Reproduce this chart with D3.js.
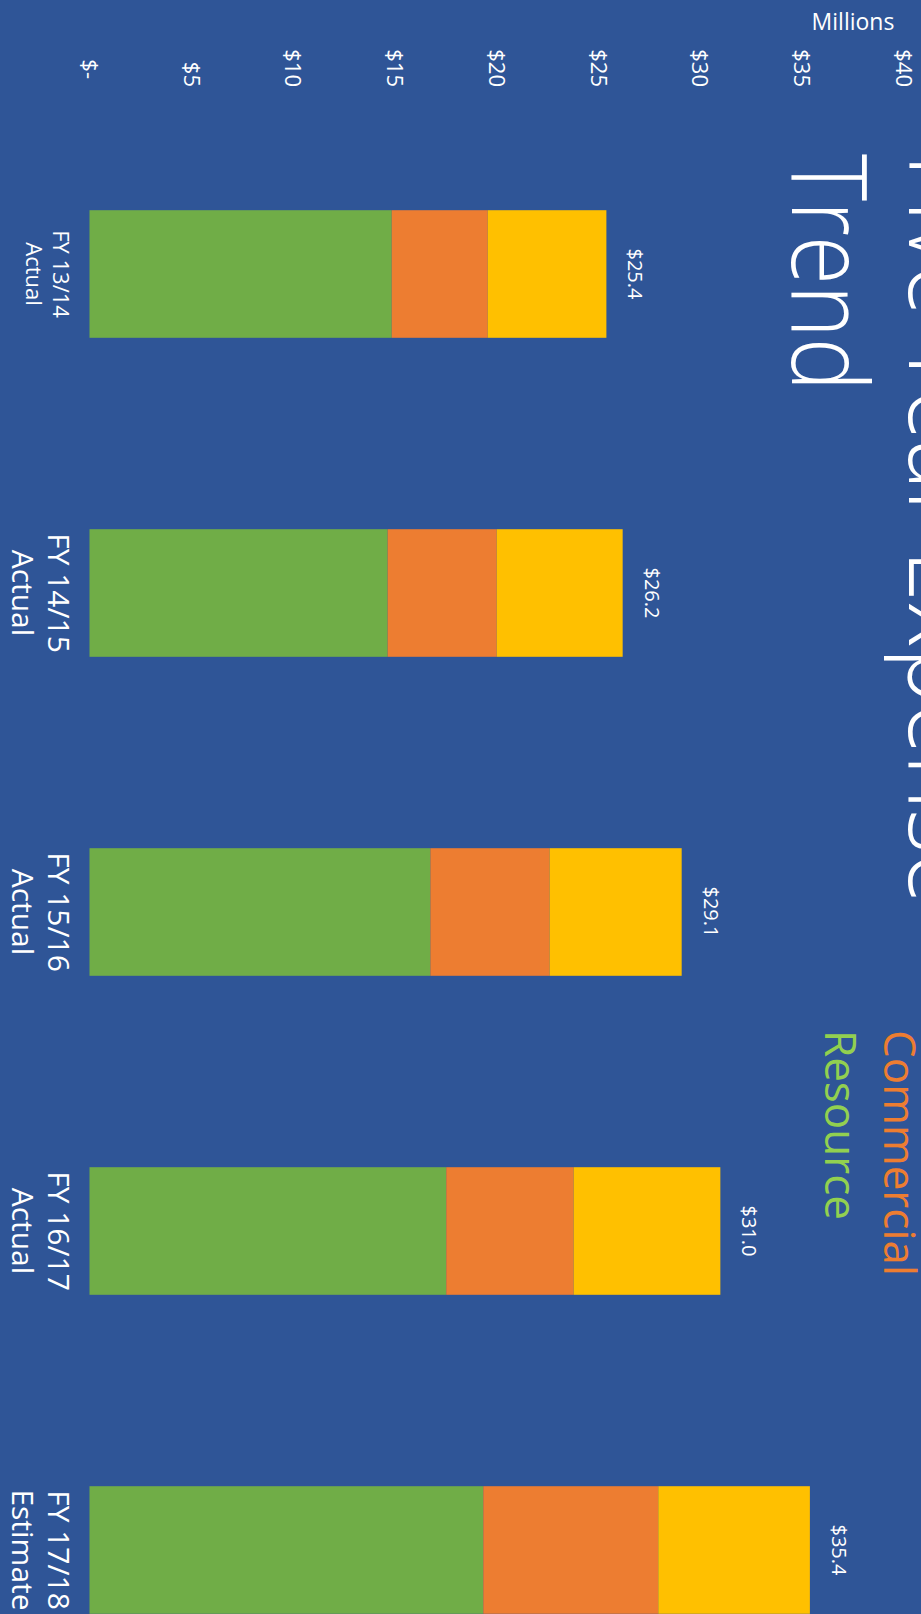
<!DOCTYPE html>
<html>
<head>
<meta charset="utf-8">
<script src="https://cdn.jsdelivr.net/npm/d3@7"></script>
<style>
  html, body { margin: 0; padding: 0; background: #2F5597; }
  svg { display: block; }
  text { font-family: "Open Sans", "Noto Sans", sans-serif; fill: #fff; }
</style>
</head>
<body>
<script>
// Expense by fiscal year, in millions of dollars
const categories = ["FY 13/14|Actual", "FY 14/15|Actual", "FY 15/16|Actual", "FY 16/17|Actual", "FY 17/18|Estimate"];
const seriesNames = ["Resource", "Commercial", "Residential"];
const resource    = [14.85, 14.65, 16.75, 17.53, 19.35];
const commercial  = [4.72, 5.36, 5.86, 6.26, 8.60];
const residential = [5.83, 6.19, 6.49, 7.21, 7.45];
const totals      = [25.4, 26.2, 29.1, 31.0, 35.4];
const tickValues  = [0, 5, 10, 15, 20, 25, 30, 35, 40];
const titleLines  = ["Five Year Expense", "Trend"];
const legendNames = ["Commercial", "Resource"];

const W = 921, H = 1614;
const colors = { Resource: "#70AD47", Commercial: "#ED7D31", Residential: "#FFC000" };
const legendColors = { Commercial: "#ED7D31", Resource: "#92D050" };

const svg = d3.select("body").append("svg").attr("width", W).attr("height", H);
svg.append("rect").attr("width", W).attr("height", H).attr("fill", "#2F5597");

// The slide is laid out turned a quarter turn clockwise:
// local u runs down the page, local v runs right-to-left.
const g = svg.append("g").attr("transform", `translate(${W},0) rotate(90)`);

const rows = categories.map((c, i) => ({
  cat: c, Resource: resource[i], Commercial: commercial[i], Residential: residential[i], total: totals[i]
}));

const x = d3.scaleBand().domain(categories).range([114.5, 1709.5]).paddingInner(0.6).paddingOuter(0.3);
const y = d3.scaleLinear().domain([0, 40]).range([831.5, 17.5]);

const stack = d3.stack().keys(seriesNames)(rows);

g.selectAll("g.series").data(stack).join("g")
  .attr("class", "series")
  .attr("fill", d => colors[d.key])
  .selectAll("rect").data(d => d).join("rect")
  .attr("x", d => x(d.data.cat))
  .attr("width", x.bandwidth())
  .attr("y", d => y(d[1]))
  .attr("height", d => y(d[0]) - y(d[1]));

// value axis labels
const fmt = v => v === 0 ? "$-" : "$" + v;
const yAxis = d3.axisLeft(y).tickValues(tickValues).tickFormat(fmt).tickSize(0).tickPadding(0);
const ya = g.append("g").attr("transform", "translate(87,0)").call(yAxis);
ya.select(".domain").remove();
ya.selectAll("text")
  .attr("font-size", 22)
  .attr("font-family", "\"Open Sans\", sans-serif")
  .attr("fill", "#fff")
  .attr("dx", d => d === 0 ? -8 : 0);

// category labels, two lines each
const catG = g.selectAll("g.cat").data(categories).join("g")
  .attr("class", "cat")
  .attr("transform", d => `translate(${x(d) + x.bandwidth() / 2},0)`);
catG.each(function(d, i) {
  const parts = d.split("|");
  const small = i === 0;
  const t = d3.select(this).append("text")
    .attr("text-anchor", "middle")
    .attr("font-size", small ? 22 : 30);
  t.append("tspan").attr("x", 0).attr("y", small ? 868 : 873).text(parts[0]);
  t.append("tspan").attr("x", 0).attr("y", small ? 895 : 909).text(parts[1]);
});

// totals above each bar
g.selectAll("text.total").data(rows).join("text")
  .attr("class", "total")
  .attr("x", d => x(d.cat) + x.bandwidth() / 2)
  .attr("y", d => y(d.total) - 22)
  .attr("text-anchor", "middle")
  .attr("font-size", 20)
  .text(d => "$" + d.total.toFixed(1));

// title
const titleG = g.append("g");
titleG.selectAll("text").data(titleLines).join("text")
  .attr("x", 154)
  .attr("y", (d, i) => i === 0 ? 12 : 129)
  .attr("font-family", "Lato, \"Open Sans\", sans-serif")
  .attr("font-weight", 300)
  .attr("font-size", 106)
  .attr("textLength", (d, i) => i === 0 ? 750 : 237)
  .attr("lengthAdjust", "spacingAndGlyphs")
  .text(d => d);

// legend
g.selectAll("text.legend").data(legendNames).join("text")
  .attr("class", "legend")
  .attr("x", 1030)
  .attr("y", (d, i) => 37 + i * 59)
  .attr("font-size", 44)
  .style("fill", d => legendColors[d])
  .text(d => d);

// unit label stays upright
svg.append("text")
  .attr("x", 853).attr("y", 30)
  .attr("text-anchor", "middle")
  .attr("font-size", 23)
  .text("Millions");
</script>
</body>
</html>
